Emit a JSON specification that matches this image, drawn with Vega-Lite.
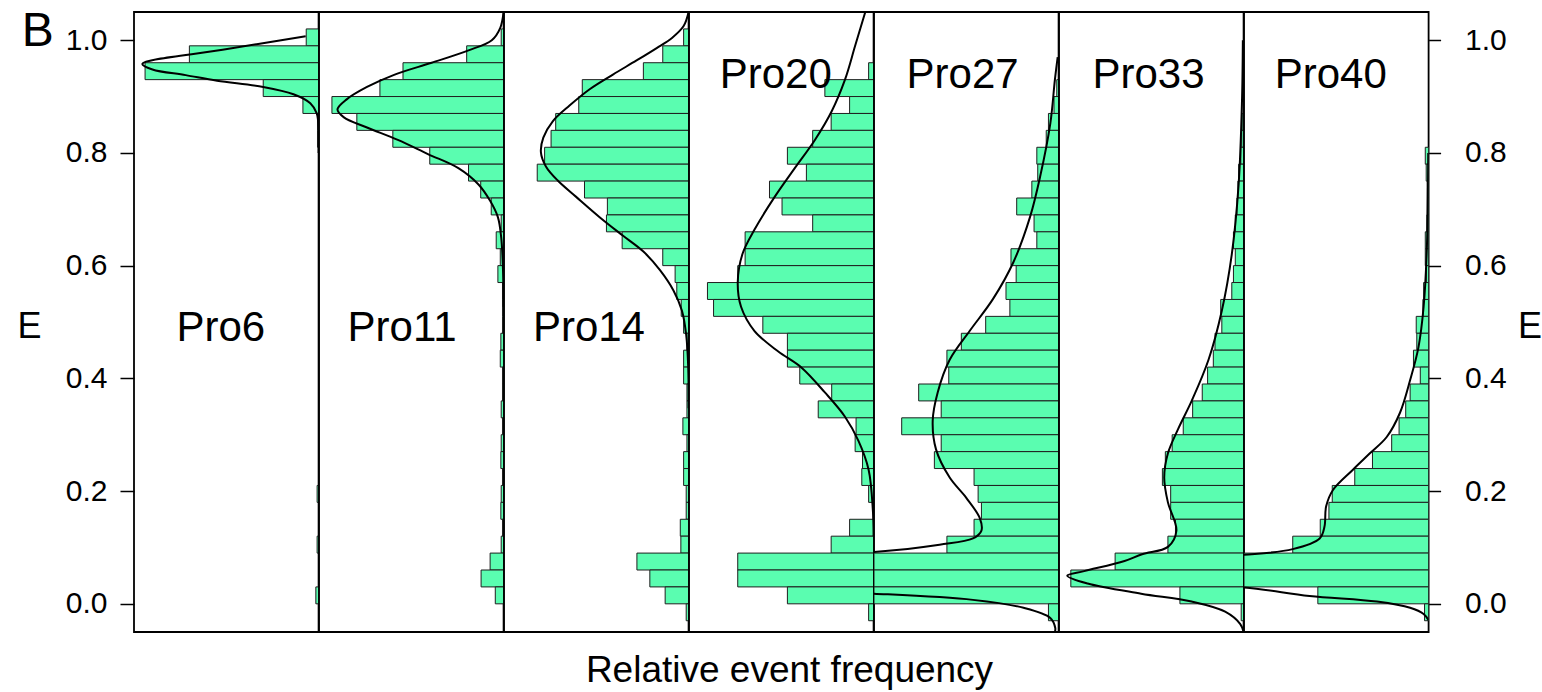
{
  "$schema": "https://vega.github.io/schema/vega-lite/v6.json",
  "autosize": {"type": "pad"},
  "padding": {"left": 16, "top": 6, "right": 5, "bottom": 5},
  "background": "white",
  "config": {"view": {"stroke": "black", "strokeWidth": 1.8}, "font": "Liberation Sans", "concat": {"spacing": 0}},
  "spacing": 0,
  "bounds": "flush",
  "resolve": {"scale": {"x": "independent", "y": "independent"}},
  "datasets": {
    "bars": [
      {"p":"Pro6","lo":0.99,"hi":1.02,"f":0.067},{"p":"Pro6","lo":0.96,"hi":0.99,"f":0.70},{"p":"Pro6","lo":0.93,"hi":0.96,"f":0.94},{"p":"Pro6","lo":0.90,"hi":0.93,"f":0.30},{"p":"Pro6","lo":0.87,"hi":0.90,"f":0.085},{"p":"Pro6","lo":0.84,"hi":0.87,"f":0.006},{"p":"Pro6","lo":0.81,"hi":0.84,"f":0.006},{"p":"Pro6","lo":0.18,"hi":0.21,"f":0.008},{"p":"Pro6","lo":0.09,"hi":0.12,"f":0.008},{"p":"Pro6","lo":0.0,"hi":0.03,"f":0.015},

      {"p":"Pro11","lo":0.99,"hi":1.02,"f":0.013},{"p":"Pro11","lo":0.96,"hi":0.99,"f":0.20},{"p":"Pro11","lo":0.93,"hi":0.96,"f":0.545},{"p":"Pro11","lo":0.90,"hi":0.93,"f":0.67},{"p":"Pro11","lo":0.87,"hi":0.90,"f":0.93},{"p":"Pro11","lo":0.84,"hi":0.87,"f":0.795},{"p":"Pro11","lo":0.81,"hi":0.84,"f":0.60},{"p":"Pro11","lo":0.78,"hi":0.81,"f":0.40},{"p":"Pro11","lo":0.75,"hi":0.78,"f":0.19},{"p":"Pro11","lo":0.72,"hi":0.75,"f":0.124},{"p":"Pro11","lo":0.69,"hi":0.72,"f":0.067},{"p":"Pro11","lo":0.66,"hi":0.69,"f":0.013},{"p":"Pro11","lo":0.63,"hi":0.66,"f":0.04},{"p":"Pro11","lo":0.60,"hi":0.63,"f":0.018},{"p":"Pro11","lo":0.57,"hi":0.60,"f":0.031},{"p":"Pro11","lo":0.54,"hi":0.57,"f":0.006},{"p":"Pro11","lo":0.51,"hi":0.54,"f":0.006},{"p":"Pro11","lo":0.48,"hi":0.51,"f":0.006},{"p":"Pro11","lo":0.45,"hi":0.48,"f":0.015},{"p":"Pro11","lo":0.42,"hi":0.45,"f":0.018},{"p":"Pro11","lo":0.39,"hi":0.42,"f":0.006},{"p":"Pro11","lo":0.36,"hi":0.39,"f":0.006},{"p":"Pro11","lo":0.33,"hi":0.36,"f":0.013},{"p":"Pro11","lo":0.30,"hi":0.33,"f":0.006},{"p":"Pro11","lo":0.27,"hi":0.30,"f":0.013},{"p":"Pro11","lo":0.24,"hi":0.27,"f":0.015},{"p":"Pro11","lo":0.21,"hi":0.24,"f":0.006},{"p":"Pro11","lo":0.18,"hi":0.21,"f":0.013},{"p":"Pro11","lo":0.15,"hi":0.18,"f":0.015},{"p":"Pro11","lo":0.12,"hi":0.15,"f":0.006},{"p":"Pro11","lo":0.09,"hi":0.12,"f":0.013},{"p":"Pro11","lo":0.06,"hi":0.09,"f":0.073},{"p":"Pro11","lo":0.03,"hi":0.06,"f":0.122},{"p":"Pro11","lo":0.0,"hi":0.03,"f":0.045},

      {"p":"Pro14","lo":0.99,"hi":1.02,"f":0.027},{"p":"Pro14","lo":0.96,"hi":0.99,"f":0.14},{"p":"Pro14","lo":0.93,"hi":0.96,"f":0.245},{"p":"Pro14","lo":0.90,"hi":0.93,"f":0.576},{"p":"Pro14","lo":0.87,"hi":0.90,"f":0.595},{"p":"Pro14","lo":0.84,"hi":0.87,"f":0.72},{"p":"Pro14","lo":0.81,"hi":0.84,"f":0.745},{"p":"Pro14","lo":0.78,"hi":0.81,"f":0.78},{"p":"Pro14","lo":0.75,"hi":0.78,"f":0.82},{"p":"Pro14","lo":0.72,"hi":0.75,"f":0.564},{"p":"Pro14","lo":0.69,"hi":0.72,"f":0.44},{"p":"Pro14","lo":0.66,"hi":0.69,"f":0.445},{"p":"Pro14","lo":0.63,"hi":0.66,"f":0.36},{"p":"Pro14","lo":0.60,"hi":0.63,"f":0.14},{"p":"Pro14","lo":0.57,"hi":0.60,"f":0.073},{"p":"Pro14","lo":0.54,"hi":0.57,"f":0.064},{"p":"Pro14","lo":0.51,"hi":0.54,"f":0.04},{"p":"Pro14","lo":0.48,"hi":0.51,"f":0.027},{"p":"Pro14","lo":0.45,"hi":0.48,"f":0.009},{"p":"Pro14","lo":0.42,"hi":0.45,"f":0.027},{"p":"Pro14","lo":0.39,"hi":0.42,"f":0.027},{"p":"Pro14","lo":0.36,"hi":0.39,"f":0.009},{"p":"Pro14","lo":0.33,"hi":0.36,"f":0.009},{"p":"Pro14","lo":0.30,"hi":0.33,"f":0.031},{"p":"Pro14","lo":0.27,"hi":0.30,"f":0.009},{"p":"Pro14","lo":0.24,"hi":0.27,"f":0.027},{"p":"Pro14","lo":0.21,"hi":0.24,"f":0.027},{"p":"Pro14","lo":0.18,"hi":0.21,"f":0.013},{"p":"Pro14","lo":0.15,"hi":0.18,"f":0.013},{"p":"Pro14","lo":0.12,"hi":0.15,"f":0.045},{"p":"Pro14","lo":0.09,"hi":0.12,"f":0.042},{"p":"Pro14","lo":0.06,"hi":0.09,"f":0.28},{"p":"Pro14","lo":0.03,"hi":0.06,"f":0.21},{"p":"Pro14","lo":0.0,"hi":0.03,"f":0.127},{"p":"Pro14","lo":-0.03,"hi":0.0,"f":0.013},

      {"p":"Pro20","lo":0.93,"hi":0.96,"f":0.027},{"p":"Pro20","lo":0.90,"hi":0.93,"f":0.264},{"p":"Pro20","lo":0.87,"hi":0.90,"f":0.13},{"p":"Pro20","lo":0.84,"hi":0.87,"f":0.23},{"p":"Pro20","lo":0.81,"hi":0.84,"f":0.33},{"p":"Pro20","lo":0.78,"hi":0.81,"f":0.467},{"p":"Pro20","lo":0.75,"hi":0.78,"f":0.364},{"p":"Pro20","lo":0.72,"hi":0.75,"f":0.564},{"p":"Pro20","lo":0.69,"hi":0.72,"f":0.496},{"p":"Pro20","lo":0.66,"hi":0.69,"f":0.33},{"p":"Pro20","lo":0.63,"hi":0.66,"f":0.696},{"p":"Pro20","lo":0.60,"hi":0.63,"f":0.696},{"p":"Pro20","lo":0.57,"hi":0.60,"f":0.736},{"p":"Pro20","lo":0.54,"hi":0.57,"f":0.90},{"p":"Pro20","lo":0.51,"hi":0.54,"f":0.867},{"p":"Pro20","lo":0.48,"hi":0.51,"f":0.60},{"p":"Pro20","lo":0.45,"hi":0.48,"f":0.467},{"p":"Pro20","lo":0.42,"hi":0.45,"f":0.467},{"p":"Pro20","lo":0.39,"hi":0.42,"f":0.40},{"p":"Pro20","lo":0.36,"hi":0.39,"f":0.227},{"p":"Pro20","lo":0.33,"hi":0.36,"f":0.30},{"p":"Pro20","lo":0.30,"hi":0.33,"f":0.095},{"p":"Pro20","lo":0.27,"hi":0.30,"f":0.10},{"p":"Pro20","lo":0.24,"hi":0.27,"f":0.06},{"p":"Pro20","lo":0.21,"hi":0.24,"f":0.064},{"p":"Pro20","lo":0.18,"hi":0.21,"f":0.027},{"p":"Pro20","lo":0.12,"hi":0.15,"f":0.13},{"p":"Pro20","lo":0.09,"hi":0.12,"f":0.23},{"p":"Pro20","lo":0.06,"hi":0.09,"f":0.736},{"p":"Pro20","lo":0.03,"hi":0.06,"f":0.736},{"p":"Pro20","lo":0.0,"hi":0.03,"f":0.467},{"p":"Pro20","lo":-0.03,"hi":0.0,"f":0.027},

      {"p":"Pro27","lo":0.90,"hi":0.93,"f":0.01},{"p":"Pro27","lo":0.87,"hi":0.90,"f":0.025},{"p":"Pro27","lo":0.84,"hi":0.87,"f":0.055},{"p":"Pro27","lo":0.81,"hi":0.84,"f":0.067},{"p":"Pro27","lo":0.78,"hi":0.81,"f":0.118},{"p":"Pro27","lo":0.75,"hi":0.78,"f":0.113},{"p":"Pro27","lo":0.72,"hi":0.75,"f":0.145},{"p":"Pro27","lo":0.69,"hi":0.72,"f":0.227},{"p":"Pro27","lo":0.66,"hi":0.69,"f":0.133},{"p":"Pro27","lo":0.63,"hi":0.66,"f":0.118},{"p":"Pro27","lo":0.60,"hi":0.63,"f":0.258},{"p":"Pro27","lo":0.57,"hi":0.60,"f":0.23},{"p":"Pro27","lo":0.54,"hi":0.57,"f":0.285},{"p":"Pro27","lo":0.51,"hi":0.54,"f":0.264},{"p":"Pro27","lo":0.48,"hi":0.51,"f":0.395},{"p":"Pro27","lo":0.45,"hi":0.48,"f":0.527},{"p":"Pro27","lo":0.42,"hi":0.45,"f":0.605},{"p":"Pro27","lo":0.39,"hi":0.42,"f":0.595},{"p":"Pro27","lo":0.36,"hi":0.39,"f":0.758},{"p":"Pro27","lo":0.33,"hi":0.36,"f":0.636},{"p":"Pro27","lo":0.30,"hi":0.33,"f":0.85},{"p":"Pro27","lo":0.27,"hi":0.30,"f":0.636},{"p":"Pro27","lo":0.24,"hi":0.27,"f":0.673},{"p":"Pro27","lo":0.21,"hi":0.24,"f":0.458},{"p":"Pro27","lo":0.18,"hi":0.21,"f":0.436},{"p":"Pro27","lo":0.15,"hi":0.18,"f":0.418},{"p":"Pro27","lo":0.12,"hi":0.15,"f":0.458},{"p":"Pro27","lo":0.09,"hi":0.12,"f":0.605},{"p":"Pro27","lo":0.06,"hi":0.09,"f":1.0},{"p":"Pro27","lo":0.03,"hi":0.06,"f":1.0},{"p":"Pro27","lo":0.0,"hi":0.03,"f":1.0},{"p":"Pro27","lo":-0.03,"hi":0.0,"f":0.055},

      {"p":"Pro33","lo":0.84,"hi":0.87,"f":0.008},{"p":"Pro33","lo":0.81,"hi":0.84,"f":0.01},{"p":"Pro33","lo":0.78,"hi":0.81,"f":0.015},{"p":"Pro33","lo":0.75,"hi":0.78,"f":0.027},{"p":"Pro33","lo":0.72,"hi":0.75,"f":0.031},{"p":"Pro33","lo":0.69,"hi":0.72,"f":0.036},{"p":"Pro33","lo":0.66,"hi":0.69,"f":0.045},{"p":"Pro33","lo":0.63,"hi":0.66,"f":0.055},{"p":"Pro33","lo":0.60,"hi":0.63,"f":0.045},{"p":"Pro33","lo":0.57,"hi":0.60,"f":0.055},{"p":"Pro33","lo":0.54,"hi":0.57,"f":0.064},{"p":"Pro33","lo":0.51,"hi":0.54,"f":0.124},{"p":"Pro33","lo":0.48,"hi":0.51,"f":0.118},{"p":"Pro33","lo":0.45,"hi":0.48,"f":0.155},{"p":"Pro33","lo":0.42,"hi":0.45,"f":0.164},{"p":"Pro33","lo":0.39,"hi":0.42,"f":0.195},{"p":"Pro33","lo":0.36,"hi":0.39,"f":0.224},{"p":"Pro33","lo":0.33,"hi":0.36,"f":0.276},{"p":"Pro33","lo":0.30,"hi":0.33,"f":0.327},{"p":"Pro33","lo":0.27,"hi":0.30,"f":0.387},{"p":"Pro33","lo":0.24,"hi":0.27,"f":0.424},{"p":"Pro33","lo":0.21,"hi":0.24,"f":0.44},{"p":"Pro33","lo":0.18,"hi":0.21,"f":0.395},{"p":"Pro33","lo":0.15,"hi":0.18,"f":0.395},{"p":"Pro33","lo":0.12,"hi":0.15,"f":0.369},{"p":"Pro33","lo":0.09,"hi":0.12,"f":0.41},{"p":"Pro33","lo":0.06,"hi":0.09,"f":0.696},{"p":"Pro33","lo":0.03,"hi":0.06,"f":0.936},{"p":"Pro33","lo":0.0,"hi":0.03,"f":0.345},{"p":"Pro33","lo":-0.03,"hi":0.0,"f":0.013},

      {"p":"Pro40","lo":0.78,"hi":0.81,"f":0.018},{"p":"Pro40","lo":0.75,"hi":0.78,"f":0.013},{"p":"Pro40","lo":0.72,"hi":0.75,"f":0.008},{"p":"Pro40","lo":0.69,"hi":0.72,"f":0.008},{"p":"Pro40","lo":0.66,"hi":0.69,"f":0.01},{"p":"Pro40","lo":0.63,"hi":0.66,"f":0.018},{"p":"Pro40","lo":0.60,"hi":0.63,"f":0.018},{"p":"Pro40","lo":0.57,"hi":0.60,"f":0.012},{"p":"Pro40","lo":0.54,"hi":0.57,"f":0.027},{"p":"Pro40","lo":0.51,"hi":0.54,"f":0.031},{"p":"Pro40","lo":0.48,"hi":0.51,"f":0.067},{"p":"Pro40","lo":0.45,"hi":0.48,"f":0.064},{"p":"Pro40","lo":0.42,"hi":0.45,"f":0.082},{"p":"Pro40","lo":0.39,"hi":0.42,"f":0.045},{"p":"Pro40","lo":0.36,"hi":0.39,"f":0.10},{"p":"Pro40","lo":0.33,"hi":0.36,"f":0.124},{"p":"Pro40","lo":0.30,"hi":0.33,"f":0.16},{"p":"Pro40","lo":0.27,"hi":0.30,"f":0.20},{"p":"Pro40","lo":0.24,"hi":0.27,"f":0.304},{"p":"Pro40","lo":0.21,"hi":0.24,"f":0.40},{"p":"Pro40","lo":0.18,"hi":0.21,"f":0.522},{"p":"Pro40","lo":0.15,"hi":0.18,"f":0.54},{"p":"Pro40","lo":0.12,"hi":0.15,"f":0.587},{"p":"Pro40","lo":0.09,"hi":0.12,"f":0.736},{"p":"Pro40","lo":0.06,"hi":0.09,"f":1.0},{"p":"Pro40","lo":0.03,"hi":0.06,"f":1.0},{"p":"Pro40","lo":0.0,"hi":0.03,"f":0.60},{"p":"Pro40","lo":-0.03,"hi":0.0,"f":0.022}
    ],
    "dens": [
      {"p":"Pro6","E":1.007,"d":0.07},{"p":"Pro6","E":0.983,"d":0.52},{"p":"Pro6","E":0.958,"d":0.955},{"p":"Pro6","E":0.948,"d":0.90},{"p":"Pro6","E":0.938,"d":0.72},{"p":"Pro6","E":0.928,"d":0.55},{"p":"Pro6","E":0.917,"d":0.30},{"p":"Pro6","E":0.904,"d":0.136},{"p":"Pro6","E":0.888,"d":0.045},{"p":"Pro6","E":0.87,"d":0.01},{"p":"Pro6","E":0.84,"d":0.0},{"p":"Pro6","E":0.80,"d":0.0},

      {"p":"Pro11","E":1.05,"d":0.0},{"p":"Pro11","E":1.022,"d":0.018},{"p":"Pro11","E":1.0,"d":0.064},{"p":"Pro11","E":0.982,"d":0.19},{"p":"Pro11","E":0.96,"d":0.39},{"p":"Pro11","E":0.939,"d":0.59},{"p":"Pro11","E":0.917,"d":0.74},{"p":"Pro11","E":0.895,"d":0.85},{"p":"Pro11","E":0.877,"d":0.90},{"p":"Pro11","E":0.863,"d":0.865},{"p":"Pro11","E":0.845,"d":0.74},{"p":"Pro11","E":0.823,"d":0.573},{"p":"Pro11","E":0.798,"d":0.41},{"p":"Pro11","E":0.773,"d":0.245},{"p":"Pro11","E":0.744,"d":0.136},{"p":"Pro11","E":0.715,"d":0.073},{"p":"Pro11","E":0.686,"d":0.031},{"p":"Pro11","E":0.65,"d":0.013},{"p":"Pro11","E":0.6,"d":0.004},{"p":"Pro11","E":0.527,"d":0.0},

      {"p":"Pro14","E":1.05,"d":0.0},{"p":"Pro14","E":1.025,"d":0.027},{"p":"Pro14","E":1.004,"d":0.09},{"p":"Pro14","E":0.986,"d":0.173},{"p":"Pro14","E":0.964,"d":0.282},{"p":"Pro14","E":0.939,"d":0.41},{"p":"Pro14","E":0.913,"d":0.536},{"p":"Pro14","E":0.884,"d":0.645},{"p":"Pro14","E":0.856,"d":0.736},{"p":"Pro14","E":0.827,"d":0.787},{"p":"Pro14","E":0.801,"d":0.80},{"p":"Pro14","E":0.776,"d":0.773},{"p":"Pro14","E":0.751,"d":0.709},{"p":"Pro14","E":0.722,"d":0.609},{"p":"Pro14","E":0.686,"d":0.482},{"p":"Pro14","E":0.653,"d":0.355},{"p":"Pro14","E":0.625,"d":0.245},{"p":"Pro14","E":0.592,"d":0.155},{"p":"Pro14","E":0.556,"d":0.082},{"p":"Pro14","E":0.52,"d":0.036},{"p":"Pro14","E":0.477,"d":0.013},{"p":"Pro14","E":0.419,"d":0.002},{"p":"Pro14","E":0.347,"d":0.0},

      {"p":"Pro20","E":1.05,"d":0.045},{"p":"Pro20","E":0.99,"d":0.10},{"p":"Pro20","E":0.93,"d":0.155},{"p":"Pro20","E":0.874,"d":0.227},{"p":"Pro20","E":0.823,"d":0.318},{"p":"Pro20","E":0.773,"d":0.427},{"p":"Pro20","E":0.722,"d":0.536},{"p":"Pro20","E":0.664,"d":0.645},{"p":"Pro20","E":0.621,"d":0.71},{"p":"Pro20","E":0.57,"d":0.736},{"p":"Pro20","E":0.527,"d":0.718},{"p":"Pro20","E":0.484,"d":0.645},{"p":"Pro20","E":0.448,"d":0.518},{"p":"Pro20","E":0.419,"d":0.39},{"p":"Pro20","E":0.375,"d":0.264},{"p":"Pro20","E":0.332,"d":0.155},{"p":"Pro20","E":0.289,"d":0.082},{"p":"Pro20","E":0.238,"d":0.027},{"p":"Pro20","E":0.166,"d":0.004},{"p":"Pro20","E":0.12,"d":0.0},

      {"p":"Pro27","E":0.97,"d":0.005},{"p":"Pro27","E":0.93,"d":0.02},{"p":"Pro27","E":0.852,"d":0.045},{"p":"Pro27","E":0.758,"d":0.10},{"p":"Pro27","E":0.686,"d":0.155},{"p":"Pro27","E":0.606,"d":0.245},{"p":"Pro27","E":0.541,"d":0.355},{"p":"Pro27","E":0.484,"d":0.482},{"p":"Pro27","E":0.433,"d":0.59},{"p":"Pro27","E":0.375,"d":0.655},{"p":"Pro27","E":0.325,"d":0.682},{"p":"Pro27","E":0.274,"d":0.664},{"p":"Pro27","E":0.224,"d":0.59},{"p":"Pro27","E":0.188,"d":0.50},{"p":"Pro27","E":0.152,"d":0.427},{"p":"Pro27","E":0.13,"d":0.418},{"p":"Pro27","E":0.116,"d":0.464},{"p":"Pro27","E":0.105,"d":0.645},{"p":"Pro27","E":0.092,"d":1.0},{"p":"Pro27","E":0.08,"d":1.8},{"p":"Pro27","E":0.065,"d":2.6},{"p":"Pro27","E":0.05,"d":2.9},{"p":"Pro27","E":0.035,"d":2.4},{"p":"Pro27","E":0.025,"d":1.6},{"p":"Pro27","E":0.018,"d":1.0},{"p":"Pro27","E":0.007,"d":0.464},{"p":"Pro27","E":-0.007,"d":0.19},{"p":"Pro27","E":-0.025,"d":0.045},{"p":"Pro27","E":-0.043,"d":0.018},{"p":"Pro27","E":-0.05,"d":0.02},

      {"p":"Pro33","E":1.0,"d":0.004},{"p":"Pro33","E":0.888,"d":0.009},{"p":"Pro33","E":0.744,"d":0.027},{"p":"Pro33","E":0.62,"d":0.064},{"p":"Pro33","E":0.52,"d":0.118},{"p":"Pro33","E":0.433,"d":0.19},{"p":"Pro33","E":0.361,"d":0.28},{"p":"Pro33","E":0.31,"d":0.355},{"p":"Pro33","E":0.267,"d":0.41},{"p":"Pro33","E":0.224,"d":0.43},{"p":"Pro33","E":0.18,"d":0.41},{"p":"Pro33","E":0.13,"d":0.364},{"p":"Pro33","E":0.101,"d":0.41},{"p":"Pro33","E":0.088,"d":0.55},{"p":"Pro33","E":0.076,"d":0.645},{"p":"Pro33","E":0.058,"d":0.864},{"p":"Pro33","E":0.05,"d":0.955},{"p":"Pro33","E":0.036,"d":0.845},{"p":"Pro33","E":0.018,"d":0.555},{"p":"Pro33","E":0.004,"d":0.282},{"p":"Pro33","E":-0.014,"d":0.10},{"p":"Pro33","E":-0.036,"d":0.018},{"p":"Pro33","E":-0.05,"d":0.0},

      {"p":"Pro40","E":0.80,"d":0.002},{"p":"Pro40","E":0.635,"d":0.009},{"p":"Pro40","E":0.527,"d":0.027},{"p":"Pro40","E":0.455,"d":0.055},{"p":"Pro40","E":0.397,"d":0.10},{"p":"Pro40","E":0.339,"d":0.155},{"p":"Pro40","E":0.296,"d":0.227},{"p":"Pro40","E":0.267,"d":0.318},{"p":"Pro40","E":0.238,"d":0.41},{"p":"Pro40","E":0.202,"d":0.518},{"p":"Pro40","E":0.173,"d":0.555},{"p":"Pro40","E":0.137,"d":0.564},{"p":"Pro40","E":0.116,"d":0.59},{"p":"Pro40","E":0.097,"d":0.736},{"p":"Pro40","E":0.087,"d":1.0},{"p":"Pro40","E":0.075,"d":1.8},{"p":"Pro40","E":0.06,"d":2.4},{"p":"Pro40","E":0.045,"d":2.2},{"p":"Pro40","E":0.035,"d":1.5},{"p":"Pro40","E":0.029,"d":1.0},{"p":"Pro40","E":0.014,"d":0.645},{"p":"Pro40","E":0.004,"d":0.28},{"p":"Pro40","E":-0.007,"d":0.10},{"p":"Pro40","E":-0.018,"d":0.027},{"p":"Pro40","E":-0.029,"d":0.0}
    ]
  },
  "hconcat": [
    {
      "width": 184.6, "height": 620,
      "layer": [
        {"data": {"name": "bars"}, "transform": [{"filter": "datum.p === 'Pro6'"}],
         "mark": {"type": "bar", "fill": "#5AFDB0", "stroke": "#1f1f1f", "strokeWidth": 1, "clip": true},
         "encoding": {
           "y": {"field": "lo", "type": "quantitative", "scale": {"domain": [-0.05, 1.05], "nice": false, "zero": false},
                 "axis": {"orient": "left", "values": [0, 0.2, 0.4, 0.6, 0.8, 1], "format": ".1f", "tickSize": 14, "tickWidth": 1.5, "tickColor": "black", "labelPadding": 13, "labelFontSize": 30, "labelColor": "black", "labelFont": "Liberation Sans", "domain": false, "grid": false, "title": "E", "titleAngle": 0, "titleFontSize": 36, "titleFont": "Liberation Sans", "titleFontWeight": "normal", "titleColor": "black", "titleX": -105, "titleY": 314, "titleAlign": "center", "titleBaseline": "middle"}},
           "y2": {"field": "hi"},
           "x": {"field": "f", "type": "quantitative", "scale": {"domain": [0, 1], "reverse": true, "nice": false, "zero": false}, "axis": null},
           "x2": {"datum": 0}
         }},
        {"data": {"name": "dens"}, "transform": [{"filter": "datum.p === 'Pro6'"}],
         "mark": {"type": "line", "color": "black", "strokeWidth": 2, "clip": true, "interpolate": "catmull-rom"},
         "encoding": {"y": {"field": "E", "type": "quantitative"}, "x": {"field": "d", "type": "quantitative"}, "order": {"field": "E", "type": "quantitative"}}},
        {"data": {"values": [{}]},
         "mark": {"type": "text", "fontSize": 42, "font": "Liberation Sans", "align": "center", "baseline": "middle", "color": "black"},
         "encoding": {"x": {"datum": 0.53}, "y": {"datum": 0.49}, "text": {"value": "Pro6"}}},
        {"data": {"values": [{}]},
         "mark": {"type": "text", "fontSize": 48, "font": "Liberation Sans", "align": "center", "baseline": "alphabetic", "color": "black"},
         "encoding": {"x": {"datum": 1.522}, "y": {"datum": 0.99}, "text": {"value": "B"}}}
      ]
    },
    {
      "width": 184.6, "height": 620,
      "layer": [
        {"data": {"name": "bars"}, "transform": [{"filter": "datum.p === 'Pro11'"}],
         "mark": {"type": "bar", "fill": "#5AFDB0", "stroke": "#1f1f1f", "strokeWidth": 1, "clip": true},
         "encoding": {
           "y": {"field": "lo", "type": "quantitative", "scale": {"domain": [-0.05, 1.05], "nice": false, "zero": false}, "axis": null},
           "y2": {"field": "hi"},
           "x": {"field": "f", "type": "quantitative", "scale": {"domain": [0, 1], "reverse": true, "nice": false, "zero": false}, "axis": null},
           "x2": {"datum": 0}
         }},
        {"data": {"name": "dens"}, "transform": [{"filter": "datum.p === 'Pro11'"}],
         "mark": {"type": "line", "color": "black", "strokeWidth": 2, "clip": true, "interpolate": "catmull-rom"},
         "encoding": {"y": {"field": "E", "type": "quantitative"}, "x": {"field": "d", "type": "quantitative"}, "order": {"field": "E", "type": "quantitative"}}},
        {"data": {"values": [{}]},
         "mark": {"type": "text", "fontSize": 42, "font": "Liberation Sans", "align": "center", "baseline": "middle", "color": "black"},
         "encoding": {"x": {"datum": 0.55}, "y": {"datum": 0.49}, "text": {"value": "Pro11"}}}
      ]
    },
    {
      "width": 184.6, "height": 620,
      "layer": [
        {"data": {"name": "bars"}, "transform": [{"filter": "datum.p === 'Pro14'"}],
         "mark": {"type": "bar", "fill": "#5AFDB0", "stroke": "#1f1f1f", "strokeWidth": 1, "clip": true},
         "encoding": {
           "y": {"field": "lo", "type": "quantitative", "scale": {"domain": [-0.05, 1.05], "nice": false, "zero": false}, "axis": null},
           "y2": {"field": "hi"},
           "x": {"field": "f", "type": "quantitative", "scale": {"domain": [0, 1], "reverse": true, "nice": false, "zero": false}, "axis": null},
           "x2": {"datum": 0}
         }},
        {"data": {"name": "dens"}, "transform": [{"filter": "datum.p === 'Pro14'"}],
         "mark": {"type": "line", "color": "black", "strokeWidth": 2, "clip": true, "interpolate": "catmull-rom"},
         "encoding": {"y": {"field": "E", "type": "quantitative"}, "x": {"field": "d", "type": "quantitative"}, "order": {"field": "E", "type": "quantitative"}}},
        {"data": {"values": [{}]},
         "mark": {"type": "text", "fontSize": 42, "font": "Liberation Sans", "align": "center", "baseline": "middle", "color": "black"},
         "encoding": {"x": {"datum": 0.54}, "y": {"datum": 0.49}, "text": {"value": "Pro14"}}}
      ]
    },
    {
      "width": 184.6, "height": 620,
      "layer": [
        {"data": {"name": "bars"}, "transform": [{"filter": "datum.p === 'Pro20'"}],
         "mark": {"type": "bar", "fill": "#5AFDB0", "stroke": "#1f1f1f", "strokeWidth": 1, "clip": true},
         "encoding": {
           "y": {"field": "lo", "type": "quantitative", "scale": {"domain": [-0.05, 1.05], "nice": false, "zero": false}, "axis": null},
           "y2": {"field": "hi"},
           "x": {"field": "f", "type": "quantitative", "scale": {"domain": [0, 1], "reverse": true, "nice": false, "zero": false},
                 "axis": {"orient": "bottom", "labels": false, "ticks": false, "domain": false, "grid": false, "title": "Relative event frequency", "titleFontSize": 37, "titleFont": "Liberation Sans", "titleFontWeight": "normal", "titleColor": "black", "titlePadding": 20, "titleX": 100}},
           "x2": {"datum": 0}
         }},
        {"data": {"name": "dens"}, "transform": [{"filter": "datum.p === 'Pro20'"}],
         "mark": {"type": "line", "color": "black", "strokeWidth": 2, "clip": true, "interpolate": "catmull-rom"},
         "encoding": {"y": {"field": "E", "type": "quantitative"}, "x": {"field": "d", "type": "quantitative"}, "order": {"field": "E", "type": "quantitative"}}},
        {"data": {"values": [{}]},
         "mark": {"type": "text", "fontSize": 42, "font": "Liberation Sans", "align": "center", "baseline": "middle", "color": "black"},
         "encoding": {"x": {"datum": 0.53}, "y": {"datum": 0.939}, "text": {"value": "Pro20"}}}
      ]
    },
    {
      "width": 184.6, "height": 620,
      "layer": [
        {"data": {"name": "bars"}, "transform": [{"filter": "datum.p === 'Pro27'"}],
         "mark": {"type": "bar", "fill": "#5AFDB0", "stroke": "#1f1f1f", "strokeWidth": 1, "clip": true},
         "encoding": {
           "y": {"field": "lo", "type": "quantitative", "scale": {"domain": [-0.05, 1.05], "nice": false, "zero": false}, "axis": null},
           "y2": {"field": "hi"},
           "x": {"field": "f", "type": "quantitative", "scale": {"domain": [0, 1], "reverse": true, "nice": false, "zero": false}, "axis": null},
           "x2": {"datum": 0}
         }},
        {"data": {"name": "dens"}, "transform": [{"filter": "datum.p === 'Pro27'"}],
         "mark": {"type": "line", "color": "black", "strokeWidth": 2, "clip": true, "interpolate": "catmull-rom"},
         "encoding": {"y": {"field": "E", "type": "quantitative"}, "x": {"field": "d", "type": "quantitative"}, "order": {"field": "E", "type": "quantitative"}}},
        {"data": {"values": [{}]},
         "mark": {"type": "text", "fontSize": 42, "font": "Liberation Sans", "align": "center", "baseline": "middle", "color": "black"},
         "encoding": {"x": {"datum": 0.52}, "y": {"datum": 0.939}, "text": {"value": "Pro27"}}}
      ]
    },
    {
      "width": 184.6, "height": 620,
      "layer": [
        {"data": {"name": "bars"}, "transform": [{"filter": "datum.p === 'Pro33'"}],
         "mark": {"type": "bar", "fill": "#5AFDB0", "stroke": "#1f1f1f", "strokeWidth": 1, "clip": true},
         "encoding": {
           "y": {"field": "lo", "type": "quantitative", "scale": {"domain": [-0.05, 1.05], "nice": false, "zero": false}, "axis": null},
           "y2": {"field": "hi"},
           "x": {"field": "f", "type": "quantitative", "scale": {"domain": [0, 1], "reverse": true, "nice": false, "zero": false}, "axis": null},
           "x2": {"datum": 0}
         }},
        {"data": {"name": "dens"}, "transform": [{"filter": "datum.p === 'Pro33'"}],
         "mark": {"type": "line", "color": "black", "strokeWidth": 2, "clip": true, "interpolate": "catmull-rom"},
         "encoding": {"y": {"field": "E", "type": "quantitative"}, "x": {"field": "d", "type": "quantitative"}, "order": {"field": "E", "type": "quantitative"}}},
        {"data": {"values": [{}]},
         "mark": {"type": "text", "fontSize": 42, "font": "Liberation Sans", "align": "center", "baseline": "middle", "color": "black"},
         "encoding": {"x": {"datum": 0.515}, "y": {"datum": 0.939}, "text": {"value": "Pro33"}}}
      ]
    },
    {
      "width": 184.6, "height": 620,
      "layer": [
        {"data": {"name": "bars"}, "transform": [{"filter": "datum.p === 'Pro40'"}],
         "mark": {"type": "bar", "fill": "#5AFDB0", "stroke": "#1f1f1f", "strokeWidth": 1, "clip": true},
         "encoding": {
           "y": {"field": "lo", "type": "quantitative", "scale": {"domain": [-0.05, 1.05], "nice": false, "zero": false},
                 "axis": {"orient": "right", "values": [0, 0.2, 0.4, 0.6, 0.8, 1], "format": ".1f", "tickSize": 12, "tickWidth": 1.5, "tickColor": "black", "labelPadding": 24, "labelFontSize": 30, "labelColor": "black", "labelFont": "Liberation Sans", "domain": false, "grid": false, "title": "E", "titleAngle": 0, "titleFontSize": 36, "titleFont": "Liberation Sans", "titleFontWeight": "normal", "titleColor": "black", "titleX": 101, "titleY": 314, "titleAlign": "center", "titleBaseline": "middle"}},
           "y2": {"field": "hi"},
           "x": {"field": "f", "type": "quantitative", "scale": {"domain": [0, 1], "reverse": true, "nice": false, "zero": false}, "axis": null},
           "x2": {"datum": 0}
         }},
        {"data": {"name": "dens"}, "transform": [{"filter": "datum.p === 'Pro40'"}],
         "mark": {"type": "line", "color": "black", "strokeWidth": 2, "clip": true, "interpolate": "catmull-rom"},
         "encoding": {"y": {"field": "E", "type": "quantitative"}, "x": {"field": "d", "type": "quantitative"}, "order": {"field": "E", "type": "quantitative"}}},
        {"data": {"values": [{}]},
         "mark": {"type": "text", "fontSize": 42, "font": "Liberation Sans", "align": "center", "baseline": "middle", "color": "black"},
         "encoding": {"x": {"datum": 0.53}, "y": {"datum": 0.939}, "text": {"value": "Pro40"}}}
      ]
    }
  ]
}
